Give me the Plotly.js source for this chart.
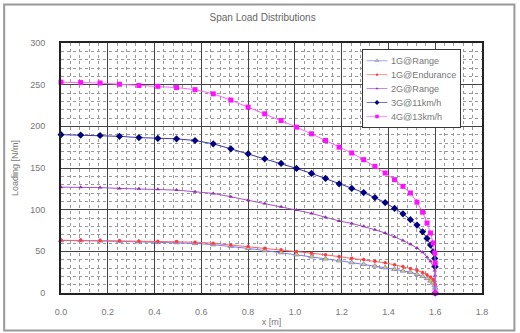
<!DOCTYPE html>
<html>
<head>
<meta charset="utf-8">
<script src="https://cdn.plot.ly/plotly-3.0.1.min.js"></script>
<style>html,body{margin:0;padding:0;background:#fff;}#chart{width:520px;height:333px;}</style>
</head>
<body>
<div id="chart"></div>
<script>
// Span stations [m]
var xStations = [0, 0.084, 0.167, 0.250, 0.333, 0.414, 0.494, 0.573, 0.651, 0.726,
  0.800, 0.871, 0.941, 1.007, 1.071, 1.131, 1.189, 1.243, 1.294, 1.342,
  1.386, 1.426, 1.462, 1.494, 1.522, 1.546, 1.565, 1.580, 1.591, 1.598, 1.600, 1.600];

var seriesNames = ["1G@Range", "1G@Endurance", "2G@Range", "3G@11km/h", "4G@13km/h"];

var load1GRange = [63, 63, 62.5, 62, 61.5, 61, 60.5, 59.5, 58, 56,
  53.5, 51, 48.5, 46, 43.5, 41, 38.8, 36.5, 34.5, 32.5,
  30.5, 28.5, 26.5, 25, 22.5, 20, 17.5, 14.5, 12, 9, 6, 0];
var load1GEndurance = [63.3, 63.2, 63, 62.7, 62.2, 61.8, 61.7, 61, 59.7, 57.7,
  55.7, 53.7, 51.8, 49.8, 47.8, 45.8, 43.7, 41.8, 40.2, 38.2,
  36.2, 33.8, 31.7, 29.3, 27.3, 24.5, 21.8, 19.2, 16.5, 13.8, 10.5, 0];
var load2GRange = [127, 127, 126.5, 125.5, 125, 124.5, 123.5, 121.5, 119.5, 115.5,
  111.5, 107.5, 103.5, 99.5, 95.5, 91, 86.5, 83.5, 80, 76,
  72, 67.5, 63, 58.5, 54, 49, 43, 38, 32, 27, 21, 0];
var load3G = [190, 189.5, 189, 188, 186.5, 185.5, 185, 183, 179, 173,
  167, 161, 155.5, 149.5, 143.5, 137.5, 131, 125.5, 120.5, 114.5,
  108.5, 101.5, 95, 88, 81.5, 73.5, 65.5, 57.5, 49.5, 41.5, 31.5, 0];
var load4G = [253, 252.5, 252, 250.5, 249, 248, 246.5, 244, 239, 231.5,
  223, 215, 207, 199, 191, 183, 175, 168, 160, 152,
  144, 136, 128, 120, 109, 97, 84, 72, 60, 48, 36, 0];

var xTickVals = [0, 0.2, 0.4, 0.6, 0.8, 1.0, 1.2, 1.4, 1.6, 1.8];
var xTickText = ["0.0", "0.2", "0.4", "0.6", "0.8", "1.0", "1.2", "1.4", "1.6", "1.8"];
var yTickVals = [0, 50, 100, 150, 200, 250, 300];

var styles = [
  {line: "#7878ff", mk: {symbol: "triangle-up", size: 5, color: "#e0d820", line: {color: "#7878ff", width: 0.8}}},
  {line: "#ff6060", mk: {symbol: "circle", size: 3.5, color: "#ff3c3c"}},
  {line: "#a850c8", mk: {symbol: "triangle-up", size: 4, color: "#9030b0"}},
  {line: "#3838a8", mk: {symbol: "diamond", size: 5.5, color: "#000080"}},
  {line: "#ff60ff", mk: {symbol: "square", size: 5, color: "#ff10ff"}}
];
var allLoads = [load1GRange, load1GEndurance, load2GRange, load3G, load4G];

var traces = allLoads.map(function (ys, i) {
  return {
    type: "scatter", mode: "lines+markers", name: seriesNames[i],
    x: xStations, y: ys,
    line: {color: styles[i].line, width: 1},
    marker: styles[i].mk,
    cliponaxis: false
  };
});

var fontFam = "Liberation Sans, Arial, sans-serif";
var tickFont = {family: fontFam, size: 9, color: "#777"};
var legendScale = 0.7;

var layout = {
  width: 520, height: 333,
  margin: {l: 61, r: 38, t: 43, b: 40, pad: 0},
  paper_bgcolor: "#fff", plot_bgcolor: "#fff",
  title: {text: "Span Load Distributions", font: {family: fontFam, size: 10, color: "#666"}, x: 0.505, xanchor: "center", y: 0.948, yanchor: "middle"},
  showlegend: true,
  legend: {x: 0.715, y: 0.975, xanchor: "left", yanchor: "top", bgcolor: "#fff", bordercolor: "#333", borderwidth: 1.4,
    font: {family: fontFam, size: 13, color: "#777"}, tracegroupgap: 0, itemwidth: 30},
  xaxis: {
    range: [0, 1.8], tickvals: xTickVals, ticktext: xTickText, ticks: "", tickfont: tickFont,
    showgrid: true, gridcolor: "#444", gridwidth: 1, zeroline: false,
    showline: true, linecolor: "#222", linewidth: 2, mirror: true,
    minor: {dtick: 0.04, showgrid: true, gridcolor: "#999", griddash: "dot", gridwidth: 1},
    ticklabelstandoff: 9,
    title: {text: "x [m]", font: {family: fontFam, size: 9, color: "#777"}, standoff: 3}
  },
  yaxis: {
    range: [0, 300], tickvals: yTickVals, ticks: "", tickfont: tickFont,
    showgrid: true, gridcolor: "#444", gridwidth: 1, zeroline: false,
    showline: true, linecolor: "#222", linewidth: 2, mirror: true,
    minor: {dtick: 10, showgrid: true, gridcolor: "#999", griddash: "dot", gridwidth: 1},
    ticklabelstandoff: 12,
    title: {text: "Loading [N/m]", font: {family: fontFam, size: 9, color: "#777"}, standoff: 10}
  },
  shapes: [
    {type: "rect", xref: "paper", yref: "paper", x0: -0.135, x1: 1.077, y0: -0.15, y1: 1.154,
      line: {color: "#999", width: 2}, fillcolor: "rgba(0,0,0,0)", layer: "below"}
  ]
};

Plotly.newPlot("chart", traces, layout, {displayModeBar: false, staticPlot: true}).then(function (gd) {
  var lg = gd.querySelector("g.legend");
  if (lg) {
    var t = lg.getAttribute("transform") || "";
    lg.setAttribute("transform", t + " scale(" + legendScale + ")");
  }
});
</script>
</body>
</html>
